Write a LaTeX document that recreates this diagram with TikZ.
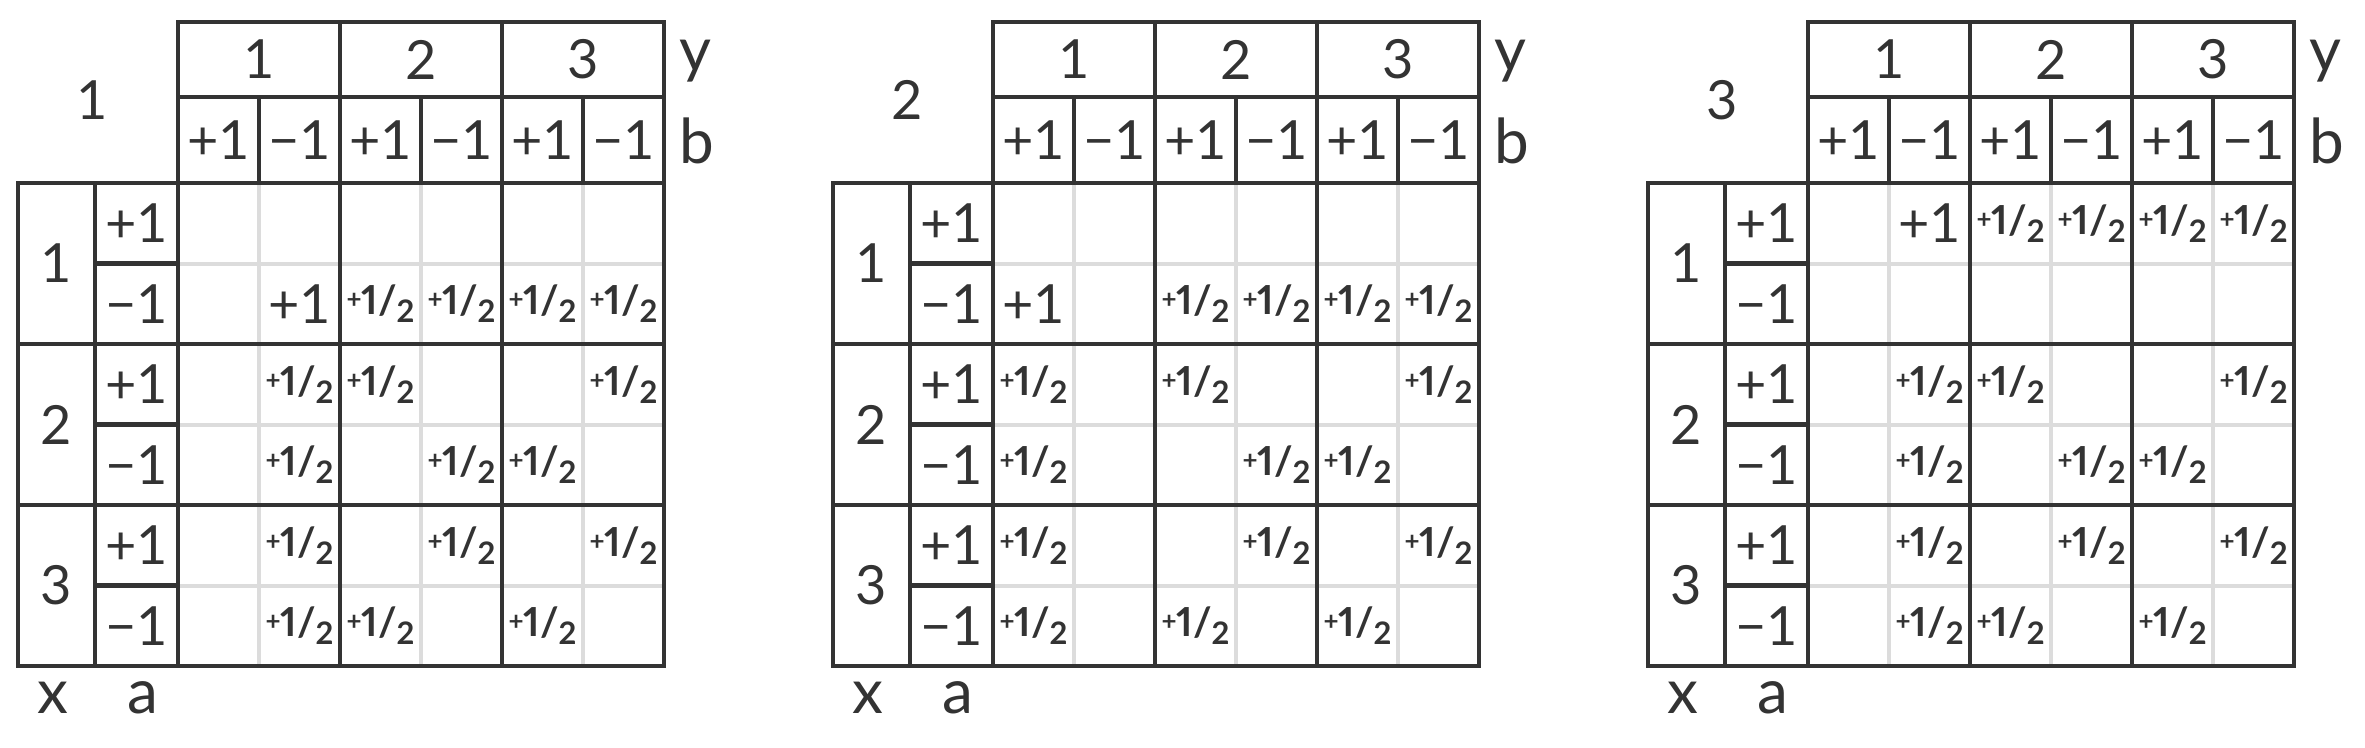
\documentclass[tikz,border=0pt]{standalone}
\usepackage{fontspec}
\setmainfont{Lato}
\definecolor{ink}{HTML}{333333}
\definecolor{faint}{HTML}{DCDCDC}
\tikzset{
  frame/.style={line width=4.5pt, draw=ink, line cap=rect},
  fine/.style={line width=4pt, draw=faint},
  lbl/.style={font=\fontsize{54}{60}\selectfont, text=ink, inner sep=0pt},
  axislbl/.style={font=\fontsize{62}{68}\selectfont, text=ink, inner sep=0pt},
}
% the two values that fill the cells
\newcommand\valone{+1}
\newcommand\valhalf{{\bfseries\addfontfeatures{Numbers=Proportional}\raisebox{6pt}{\fontsize{26}{26}\selectfont+}\fontsize{40}{40}\selectfont1/\raisebox{-8pt}{\fontsize{31}{31}\selectfont2}}}

\begin{document}
\begin{tikzpicture}[x=1pt, y=-1pt]
\useasboundingbox (0,0) rectangle (2365,747);

% grid and headings of the three tables
\foreach \ox/\p in {0/1, 815/2, 1630/3} {
  \begin{scope}[xshift=\ox pt]
    \foreach \c in {259,421,583} \draw[fine] (\c,183) -- (\c,666);
    \foreach \r in {263.5,424.5,585.5} \draw[fine] (178,\r) -- (664,\r);
    \draw[frame] (178,22) rectangle (664,183);
    \draw[frame] (18,183) rectangle (664,666);
    \draw[frame] (178,97) -- (664,97);
    \foreach \c in {259,421,583} \draw[frame] (\c,97) -- (\c,183);
    \foreach \c in {178,340,502} \draw[frame] (\c,22) -- (\c,666);
    \draw[frame] (95,183) -- (95,666);
    \foreach \r in {344,505} \draw[frame] (18,\r) -- (664,\r);
    \foreach \r in {263.5,424.5,585.5} \draw[frame] (95,\r) -- (178,\r);
    \node[lbl] (p\p-title) at (92,100) {\p};
    \foreach \k in {1,2,3} {
      \node[lbl] (p\p-y\k) at ({97+162*\k},59.5) {\k};
      \node[lbl] (p\p-x\k) at (56.5,{102.5+161*\k}) {\k};
    }
    \foreach \k/\s in {1/+1,2/−1,3/+1,4/−1,5/+1,6/−1} {
      \node[lbl] (p\p-b\k) at ({137.5+81*\k},140) {\s};
      \node[lbl] (p\p-a\k) at (136.5,{142.75+80.5*\k}) {\s};
    }
    \node[axislbl] (p\p-ylbl) at (695,61) {y};
    \node[axislbl] (p\p-blbl) at (697,141) {b};
    \node[axislbl] (p\p-xlbl) at (53,698) {x};
    \node[axislbl] (p\p-albl) at (143,698) {a};
  \end{scope}
}

% cell values, row/column/value
\foreach \r/\c/\v in {2/2/\valone, 2/3/\valhalf, 2/4/\valhalf, 2/5/\valhalf, 2/6/\valhalf,
    3/2/\valhalf, 3/3/\valhalf, 3/6/\valhalf, 4/2/\valhalf, 4/4/\valhalf, 4/5/\valhalf,
    5/2/\valhalf, 5/4/\valhalf, 5/6/\valhalf, 6/2/\valhalf, 6/3/\valhalf, 6/5/\valhalf}
  \node[lbl] (p1-\r-\c) at ({137.5+81*\c},{142.75+80.5*\r}) {\v};
\begin{scope}[xshift=815pt]
\foreach \r/\c/\v in {2/1/\valone, 2/3/\valhalf, 2/4/\valhalf, 2/5/\valhalf, 2/6/\valhalf,
    3/1/\valhalf, 3/3/\valhalf, 3/6/\valhalf, 4/1/\valhalf, 4/4/\valhalf, 4/5/\valhalf,
    5/1/\valhalf, 5/4/\valhalf, 5/6/\valhalf, 6/1/\valhalf, 6/3/\valhalf, 6/5/\valhalf}
  \node[lbl] (p2-\r-\c) at ({137.5+81*\c},{142.75+80.5*\r}) {\v};
\end{scope}
\begin{scope}[xshift=1630pt]
\foreach \r/\c/\v in {1/2/\valone, 1/3/\valhalf, 1/4/\valhalf, 1/5/\valhalf, 1/6/\valhalf,
    3/2/\valhalf, 3/3/\valhalf, 3/6/\valhalf, 4/2/\valhalf, 4/4/\valhalf, 4/5/\valhalf,
    5/2/\valhalf, 5/4/\valhalf, 5/6/\valhalf, 6/2/\valhalf, 6/3/\valhalf, 6/5/\valhalf}
  \node[lbl] (p3-\r-\c) at ({137.5+81*\c},{142.75+80.5*\r}) {\v};
\end{scope}
\end{tikzpicture}
\end{document}
